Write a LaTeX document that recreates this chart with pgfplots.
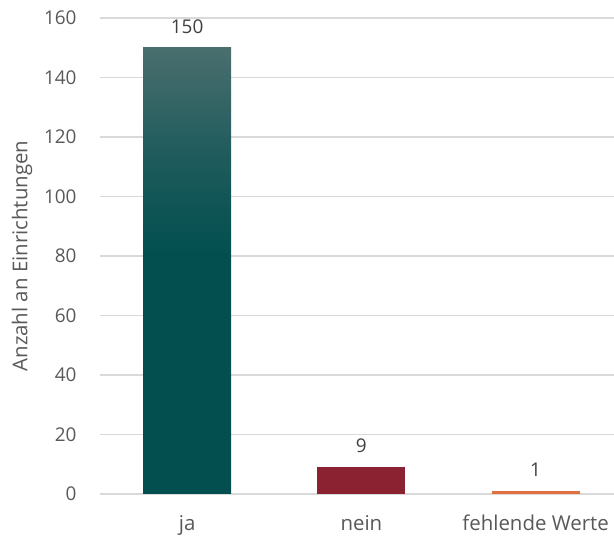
\documentclass[border=0pt]{standalone}
\usepackage{fontspec}
\setmainfont{Open Sans}
\usepackage{pgfplots}
\pgfplotsset{compat=1.18}
\definecolor{jatop}{HTML}{4A6E6E}
\definecolor{jabot}{HTML}{034F50}
\definecolor{neinred}{HTML}{8B2232}
\definecolor{fehlorange}{HTML}{E0703F}
\definecolor{txtgray}{HTML}{595959}
\definecolor{gridgray}{HTML}{D9D9D9}
\pgfdeclareverticalshading{jashade}{100bp}{
  color(0bp)=(jabot); color(52bp)=(jabot); color(63bp)=(jabot!60!jatop); color(75bp)=(jatop); color(100bp)=(jatop)}
\begin{document}
\begin{tikzpicture}[x=1bp,y=1bp]
\useasboundingbox (-100,-45) rectangle (514,494);
\begin{axis}[
  at={(0,0)}, anchor=south west,
  scale only axis,
  width=514bp, height=476bp,
  xmin=-0.5, xmax=2.45,
  ymin=0, ymax=160,
  ytick={0,20,...,160},
  xtick={0,1,2},
  xticklabels={ja,nein,fehlende Werte},
  axis line style={draw=none},
  major tick length=0pt,
  ymajorgrids,
  grid style={gridgray, line width=1.1bp},
  /pgf/number format/assume math mode=true,
  tick label style={font=\fontsize{19}{22}\selectfont, text=txtgray},
  yticklabel style={anchor=east, xshift=-20bp},
  xticklabel style={anchor=base, yshift=-37bp, font=\fontsize{20.5}{23}\selectfont},
  ylabel={Anzahl an Einrichtungen},
  every axis y label/.style={at={([xshift=-78bp]axis description cs:0,0.5)}, rotate=90, anchor=center,
    font=\fontsize{20.5}{23}\selectfont, text=txtgray},
  nodes near coords,
  every node near coord/.append style={font=\fontsize{19}{22}\selectfont, text=black!75, anchor=center, yshift=21bp},
  clip=false,
]
\addplot[ybar, bar width=88bp, bar shift=0pt, draw=none, shading=jashade]
  coordinates {(0,150)};
\addplot[ybar, bar width=88bp, bar shift=0pt, draw=none, fill=neinred]
  coordinates {(1,9)};
\addplot[ybar, bar width=88bp, bar shift=0pt, draw=none, fill=fehlorange]
  coordinates {(2,1)};
\end{axis}
\end{tikzpicture}
\end{document}
